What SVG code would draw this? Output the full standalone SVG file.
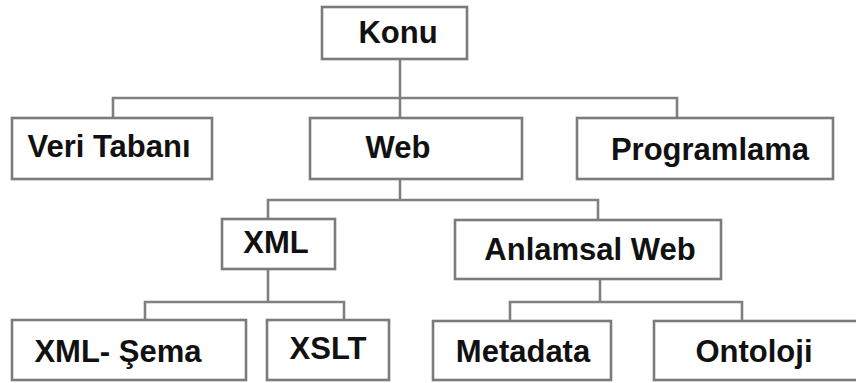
<svg xmlns="http://www.w3.org/2000/svg" width="856" height="383" viewBox="0 0 856 383">
  <style>
    .box { fill: #ffffff; stroke: #7b7b7b; stroke-width: 2.6; }
    .lbl { font-family: "Liberation Sans", Arial, sans-serif; font-weight: bold; font-size: 31px; fill: #111111; text-anchor: middle; }
    .wire { fill: none; stroke: #808080; stroke-width: 2.6; stroke-linejoin: miter; }
  </style>
  <rect width="856" height="383" fill="#ffffff"/>

  <g id="connectors">
    <!-- Konu to level 1 -->
    <path class="wire" d="M400 59 V98 M113 118 V98 H677 V118 M400 98 V118"/>
    <!-- Web to level 2 -->
    <path class="wire" d="M400 179 V200 M268 219 V200 H598 V220"/>
    <!-- XML to its children -->
    <path class="wire" d="M268 269 V302 M145 320 V302 H344 V320"/>
    <!-- Anlamsal Web to its children -->
    <path class="wire" d="M600 279 V302 M510 321 V302 H742 V321"/>
  </g>

  <g id="konu">
    <rect class="box" x="322" y="7" width="145" height="52"/>
    <text class="lbl" x="398" y="43">Konu</text>
  </g>
  <g id="veri-tabani">
    <rect class="box" x="12" y="118" width="200" height="61"/>
    <text class="lbl" x="109" y="157">Veri Tabanı</text>
  </g>
  <g id="web">
    <rect class="box" x="310" y="118" width="212" height="61"/>
    <text class="lbl" x="398" y="158">Web</text>
  </g>
  <g id="programlama">
    <rect class="box" x="577" y="118" width="256" height="61"/>
    <text class="lbl" x="710" y="160">Programlama</text>
  </g>
  <g id="xml">
    <rect class="box" x="222" y="219" width="113" height="50"/>
    <text class="lbl" x="276" y="253">XML</text>
  </g>
  <g id="anlamsal-web">
    <rect class="box" x="455" y="220" width="266" height="59"/>
    <text class="lbl" x="590" y="260">Anlamsal Web</text>
  </g>
  <g id="xml-sema">
    <rect class="box" x="12" y="320" width="234" height="60"/>
    <text class="lbl" x="118" y="362">XML- Şema</text>
  </g>
  <g id="xslt">
    <rect class="box" x="267" y="320" width="122" height="60"/>
    <text class="lbl" x="328" y="359">XSLT</text>
  </g>
  <g id="metadata">
    <rect class="box" x="433" y="321" width="178" height="59"/>
    <text class="lbl" x="523" y="362">Metadata</text>
  </g>
  <g id="ontoloji">
    <rect class="box" x="654" y="321" width="220" height="59"/>
    <text class="lbl" x="754" y="362">Ontoloji</text>
  </g>
</svg>
